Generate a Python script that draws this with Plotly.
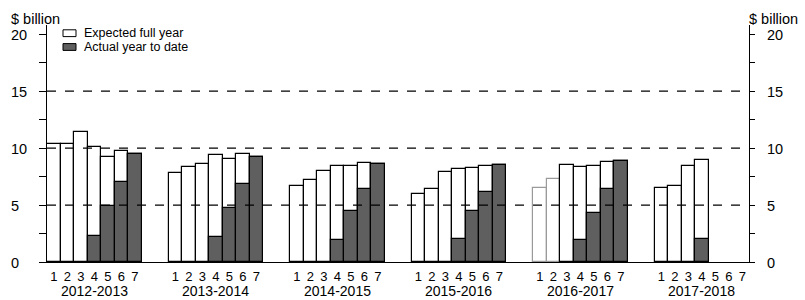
import plotly.graph_objects as go

years = ["2012-2013", "2013-2014", "2014-2015", "2015-2016", "2016-2017", "2017-2018"]
quarters = ["1", "2", "3", "4", "5", "6", "7"]

expected = {
    "2012-2013": [10.4, 10.4, 11.4, 10.1, 9.2, 9.7, 9.5],
    "2013-2014": [7.8, 8.3, 8.6, 9.4, 9.0, 9.5, 9.2],
    "2014-2015": [6.7, 7.2, 8.0, 8.4, 8.4, 8.7, 8.6],
    "2015-2016": [6.0, 6.4, 7.9, 8.2, 8.25, 8.4, 8.55],
    "2016-2017": [6.5, 7.3, 8.5, 8.3, 8.4, 8.75, 8.85],
    "2017-2018": [6.5, 6.7, 8.4, 8.95, None, None, None],
}
actual = {
    "2012-2013": [None, None, None, 2.3, 4.95, 7.05, 9.5],
    "2013-2014": [None, None, None, 2.2, 4.75, 6.85, 9.2],
    "2014-2015": [None, None, None, 1.95, 4.5, 6.4, 8.6],
    "2015-2016": [None, None, None, 2.0, 4.5, 6.15, 8.55],
    "2016-2017": [None, None, None, 1.95, 4.3, 6.4, 8.85],
    "2017-2018": [None, None, None, 2.05, None, None, None],
}
grey_expected = {("2016-2017", 0), ("2016-2017", 1)}

y_ticks = [0, 2.5, 5, 7.5, 10, 12.5, 15, 17.5, 20]
y_labels = [0, 5, 10, 15, 20]

SLOTS = 9
xs, ev, ec, av, tickvals, ticktext = [], [], [], [], [], []
for g, yr in enumerate(years):
    for b, q in enumerate(quarters):
        x = g * SLOTS + b
        tickvals.append(x)
        ticktext.append(q)
        xs.append(x)
        ev.append(expected[yr][b])
        ec.append("#9a9a9a" if (yr, b) in grey_expected else "black")
        av.append(actual[yr][b])

fig = go.Figure()
fig.add_trace(go.Bar(x=xs, y=ev, width=1, name="Expected full year",
                     marker=dict(color="white", line=dict(color=ec, width=1.2)),
                     showlegend=False))
fig.add_trace(go.Bar(x=xs, y=av, width=1, name="Actual year to date",
                     marker=dict(color="#5f5f5f", line=dict(color="black", width=1.2)),
                     showlegend=False))

# dashed reference lines
for v in [5, 10, 15]:
    fig.add_shape(type="line", xref="paper", yref="y", x0=0, x1=1, y0=v, y1=v,
                  line=dict(color="black", width=1.2, dash="dash"), layer="above")

font = "Liberation Sans, Arial, Helvetica, sans-serif"
YMAX = 20.8

fig.update_layout(
    width=805, height=300,
    margin=dict(l=47, r=56, t=25, b=38),
    plot_bgcolor="white", paper_bgcolor="white",
    barmode="overlay", bargap=0,
    font=dict(family=font, color="black", size=13),
    xaxis=dict(range=[-0.5, 5 * SLOTS + 6.5], tickvals=tickvals, ticktext=ticktext,
               ticks="", showgrid=False, zeroline=False, showline=True,
               linecolor="black", linewidth=1.2, tickfont=dict(size=13),
               ticklabelstandoff=2),
    yaxis=dict(range=[0, YMAX], tickvals=y_ticks, ticktext=[""] * len(y_ticks),
               ticks="outside", ticklen=7, tickwidth=1, tickcolor="black",
               showgrid=False, zeroline=False, showline=True, linecolor="black",
               linewidth=1.2),
    yaxis2=dict(range=[0, YMAX], tickvals=y_ticks, ticktext=[""] * len(y_ticks),
                ticks="outside", ticklen=5, tickwidth=1, tickcolor="black",
                showgrid=False, zeroline=False, showline=True, linecolor="black",
                linewidth=1.2, overlaying="y", side="right"),
)
fig.add_trace(go.Scatter(x=[None], y=[None], yaxis="y2", showlegend=False))

# y tick labels (left-aligned on both sides, as in the reference)
for v in y_labels:
    fig.add_annotation(x=0, y=v, xref="paper", yref="y", text=str(v),
                       showarrow=False, xanchor="left", yanchor="middle",
                       xshift=-38, yshift=-1, font=dict(size=14.5))
    fig.add_annotation(x=1, y=v, xref="paper", yref="y", text=str(v),
                       showarrow=False, xanchor="left", yanchor="middle",
                       xshift=16, yshift=-1, font=dict(size=14.5))

# year labels
for g, yr in enumerate(years):
    fig.add_annotation(x=g * SLOTS + 3, y=0, xref="x", yref="paper", text=yr,
                       showarrow=False, yanchor="top", yshift=-19,
                       font=dict(size=14))

# unit labels
fig.add_annotation(x=0, y=1, xref="paper", yref="paper", text="$ billion",
                   showarrow=False, xanchor="left", yanchor="bottom",
                   xshift=-38, yshift=-4, font=dict(size=14.5))
fig.add_annotation(x=1, y=1, xref="paper", yref="paper", text="$ billion",
                   showarrow=False, xanchor="left", yanchor="bottom",
                   xshift=-2, yshift=-4, font=dict(size=14.5))

# legend (manual)
leg = [("Expected full year", "white"), ("Actual year to date", "#5f5f5f")]
for i, (txt, col) in enumerate(leg):
    ytop = 29.8 + i * 13.8
    fig.add_shape(type="rect", xref="paper", yref="paper",
                  x0=(63 - 47) / 702, x1=(76 - 47) / 702,
                  y0=(262 - ytop) / 237, y1=(262 - ytop - 6.8) / 237,
                  fillcolor=col, line=dict(color="black", width=1))
    fig.add_annotation(x=(82 - 47) / 702, y=(262 - ytop - 3.4) / 237,
                       xref="paper", yref="paper", text=txt, showarrow=False,
                       xanchor="left", yanchor="middle", font=dict(size=12.5))

fig.write_html("out.html")
